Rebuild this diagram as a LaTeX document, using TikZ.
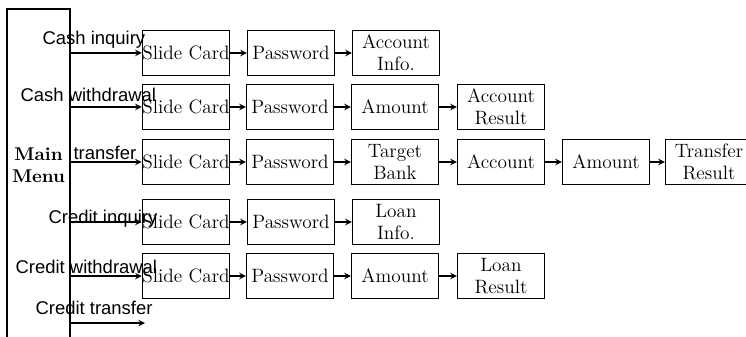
\documentclass[tikz,border=0pt]{standalone}
\usepackage{fontspec}
\setsansfont{Liberation Sans}
\usetikzlibrary{arrows}

\begin{document}
\begin{tikzpicture}[x=0.2mm,y=-0.2mm,line width=0.7pt,>=stealth,
		blk/.style={draw,align=center,inner sep=0pt,minimum width=17.4mm,minimum height=9mm,
			font=\fontsize{11}{12.5}\selectfont},
		lbl/.style={anchor=base west,inner sep=0pt,font=\sffamily\fontsize{10.5}{12}\selectfont}]

		\path[use as bounding box] (0,0) rectangle (746,337);
		\clip (0,0) rectangle (746,337);

		% menu column, open at the bottom
		\node[draw,minimum width=12.6mm,minimum height=67.2mm,inner sep=0pt] (menu) at (38.5,177) {};
		\node[align=center,font=\bfseries\fontsize{10.5}{12.5}\selectfont] (mm) at (38.5,165) {Main\\Menu};

		% cash inquiry
		\node[blk] (sc1) at (186,53) {Slide Card};
		\node[blk] (pw1) at (291,53) {Password};
		\node[blk] (ai1) at (396,53) {Account\\Info.};

		% cash withdrawal
		\node[blk] (sc2) at (186,107) {Slide Card};
		\node[blk] (pw2) at (290,107) {Password};
		\node[blk] (am2) at (395,107) {Amount};
		\node[blk] (ar2) at (501,107) {Account\\Result};

		% transfer
		\node[blk] (sc3) at (186,162) {Slide Card};
		\node[blk] (pw3) at (290,162) {Password};
		\node[blk] (tb3) at (395,162) {Target\\Bank};
		\node[blk] (ac3) at (501,162) {Account};
		\node[blk] (am3) at (606,162) {Amount};
		\node[blk] (tr3) at (709,162) {Transfer\\Result};

		% credit inquiry
		\node[blk] (sc4) at (186,222) {Slide Card};
		\node[blk] (pw4) at (291,222) {Password};
		\node[blk] (li4) at (396,222) {Loan\\Info.};

		% credit withdrawal
		\node[blk] (sc5) at (186,276) {Slide Card};
		\node[blk] (pw5) at (290,276) {Password};
		\node[blk] (am5) at (395,276) {Amount};
		\node[blk] (lr5) at (501,276) {Loan\\Result};

		% credit transfer goes nowhere yet
		\coordinate (ct) at (145,323);

		\draw[->]
			(menu.east |- sc1) -- (sc1);
		\draw[->] (sc1) -- (pw1);
		\draw[->] (pw1) -- (ai1);

		\draw[->] (menu.east |- sc2) -- (sc2);
		\draw[->] (sc2) -- (pw2);
		\draw[->] (pw2) -- (am2);
		\draw[->] (am2) -- (ar2);

		\draw[->] (menu.east |- sc3) -- (sc3);
		\draw[->] (sc3) -- (pw3);
		\draw[->] (pw3) -- (tb3);
		\draw[->] (tb3) -- (ac3);
		\draw[->] (ac3) -- (am3);
		\draw[->] (am3) -- (tr3);

		\draw[->] (menu.east |- sc4) -- (sc4);
		\draw[->] (sc4) -- (pw4);
		\draw[->] (pw4) -- (li4);

		\draw[->] (menu.east |- sc5) -- (sc5);
		\draw[->] (sc5) -- (pw5);
		\draw[->] (pw5) -- (am5);
		\draw[->] (am5) -- (lr5);

		\draw[->] (menu.east |- ct) -- (ct);

		% option labels
		\node[lbl] (l1) at (42,45) {Cash inquiry};
		\node[lbl] (l2) at (20,102) {Cash withdrawal};
		\node[lbl] (l3) at (73,160) {transfer};
		\node[lbl] (l4) at (48,223) {Credit inquiry};
		\node[lbl] (l5) at (15,273) {Credit withdrawal};
		\node[lbl] (l6) at (35,314) {Credit transfer};

		\end{tikzpicture}
\end{document}
